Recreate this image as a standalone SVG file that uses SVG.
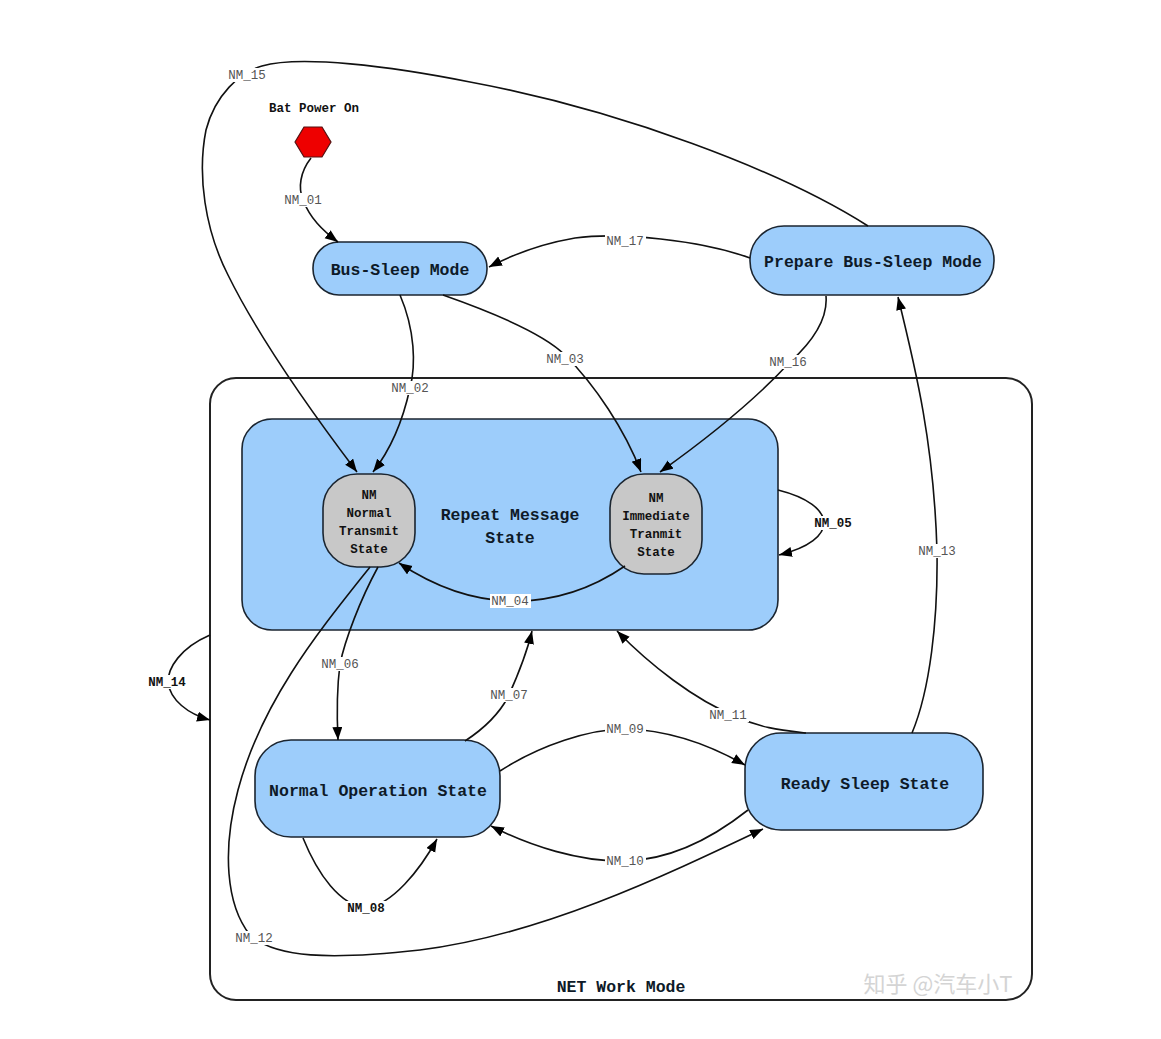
<svg xmlns="http://www.w3.org/2000/svg" width="1161" height="1039" viewBox="0 0 1161 1039">
<defs>
<marker id="arr" markerUnits="userSpaceOnUse" markerWidth="14" markerHeight="11" refX="13" refY="5" orient="auto">
<path d="M0,0 L13,5 L0,10 z" fill="#000"/>
</marker>
<style>
.box{fill:#9dcdfb;stroke:#1b2530;stroke-width:1.6}
.sub{fill:#c8c8c8;stroke:#1b2530;stroke-width:1.6}
.big{font-family:"Liberation Mono",monospace;font-weight:bold;font-size:16.5px;fill:#0e1a28;text-anchor:middle}
.sm{font-family:"Liberation Mono",monospace;font-weight:bold;font-size:12.5px;fill:#111;text-anchor:middle}
.e{fill:none;stroke:#111;stroke-width:1.6}
.ea{fill:none;stroke:#111;stroke-width:1.6;marker-end:url(#arr)}
.lb{font-family:"Liberation Mono",monospace;font-size:12.5px;fill:#555;text-anchor:middle}
.lbb{font-family:"Liberation Mono",monospace;font-size:12.5px;font-weight:bold;fill:#111;text-anchor:middle}
.bg{fill:#fff}
</style>
</defs>
<rect width="1161" height="1039" fill="#fff"/>

<g id="net-work-mode">
<rect x="210" y="378" width="822" height="622" rx="26" fill="#fff" stroke="#222" stroke-width="2"/>
<text class="big" x="621" y="992">NET Work Mode</text>
</g>

<g id="repeat-message-state">
<rect class="box" x="242" y="419" width="536" height="211" rx="30"/>
<text class="big" x="510" y="520">Repeat Message</text>
<text class="big" x="510" y="543">State</text>
</g>

<g id="nm-normal-transmit">
<rect class="sub" x="323" y="474" width="92" height="93" rx="34"/>
<text class="sm" x="369" y="499">NM</text>
<text class="sm" x="369" y="517">Normal</text>
<text class="sm" x="369" y="535">Transmit</text>
<text class="sm" x="369" y="553">State</text>
</g>

<g id="nm-immediate-transmit">
<rect class="sub" x="610" y="474" width="92" height="100" rx="34"/>
<text class="sm" x="656" y="502">NM</text>
<text class="sm" x="656" y="520">Immediate</text>
<text class="sm" x="656" y="538">Tranmit</text>
<text class="sm" x="656" y="556">State</text>
</g>

<g id="bat-power-on">
<text class="sm" x="314" y="112">Bat Power On</text>
<polygon points="295,142 304,127 322,127 331,142 322,157 304,157" fill="#ee0000" stroke="#551111" stroke-width="1.2"/>
</g>

<g id="bus-sleep-mode">
<rect class="box" x="313" y="242" width="174" height="53" rx="26"/>
<text class="big" x="400" y="275">Bus-Sleep Mode</text>
</g>

<g id="prepare-bus-sleep-mode">
<rect class="box" x="750" y="226" width="244" height="69" rx="34"/>
<text class="big" x="873" y="267">Prepare Bus-Sleep Mode</text>
</g>

<g id="normal-operation-state">
<rect class="box" x="255" y="740" width="245" height="97" rx="36"/>
<text class="big" x="378" y="796">Normal Operation State</text>
</g>

<g id="ready-sleep-state">
<rect class="box" x="745" y="733" width="238" height="97" rx="36"/>
<text class="big" x="865" y="789">Ready Sleep State</text>
</g>

<g id="connectors">
<path class="ea" d="M311,158 C300,172 298,188 303,200 C310,218 322,230 338,242"/>
<path class="ea" d="M868,226 C780,170 620,110 470,82 C390,66 300,55 262,66 C240,72 215,95 206,130 C197,175 205,230 228,275 C260,340 310,410 357,472"/>
<path class="ea" d="M750,258 C700,240 620,232 575,238 C540,244 510,256 489,267"/>
<path class="ea" d="M400,295 C415,330 416,365 410,388 C403,420 392,448 373,472"/>
<path class="ea" d="M443,295 C500,315 545,335 565,355 C595,385 625,430 641,472"/>
<path class="ea" d="M826,296 C828,320 812,342 790,362 C755,400 705,440 660,472"/>
<path class="ea" d="M625,566 C590,590 550,602 510,601 C470,600 432,585 399,563"/>
<path class="ea" d="M778,490 C838,505 840,540 779,555"/>
<path class="ea" d="M378,567 C360,600 345,640 340,664 C336,695 337,720 338,740"/>
<path class="ea" d="M465,741 C485,728 500,712 508,697 C518,675 527,652 532,631"/>
<path class="ea" d="M303,838 C318,875 340,905 366,908 C392,905 420,870 437,839"/>
<path class="ea" d="M500,771 C540,745 590,729 625,729 C670,730 710,745 745,765"/>
<path class="ea" d="M748,810 C710,840 670,860 625,861 C580,862 530,846 491,826"/>
<path class="ea" d="M806,733 C780,730 760,728 735,716 C695,700 650,665 617,631"/>
<path class="ea" d="M370,567 C320,630 262,700 238,790 C222,850 226,905 250,935 C275,958 330,960 420,950 C540,935 660,878 763,829"/>
<path class="ea" d="M912,733 C930,690 938,620 937,551 C934,445 916,370 898,297"/>
<path class="ea" d="M210,635 C180,648 168,668 168,682 C170,700 188,714 210,720"/>

<rect class="bg" x="283" y="193" width="41" height="14"/><text class="lb" x="303" y="204">NM_01</text>
<rect class="bg" x="227" y="68" width="41" height="14"/><text class="lb" x="247" y="79">NM_15</text>
<rect class="bg" x="605" y="234" width="41" height="14"/><text class="lb" x="625" y="245">NM_17</text>
<rect class="bg" x="390" y="381" width="41" height="14"/><text class="lb" x="410" y="392">NM_02</text>
<rect class="bg" x="545" y="352" width="41" height="14"/><text class="lb" x="565" y="363">NM_03</text>
<rect class="bg" x="768" y="355" width="41" height="14"/><text class="lb" x="788" y="366">NM_16</text>
<rect class="bg" x="490" y="594" width="41" height="14"/><text class="lb" x="510" y="605" fill="#333">NM_04</text>
<rect class="bg" x="812" y="516" width="42" height="14"/><text class="lbb" x="833" y="527">NM_05</text>
<rect class="bg" x="320" y="657" width="41" height="14"/><text class="lb" x="340" y="668">NM_06</text>
<rect class="bg" x="489" y="688" width="41" height="14"/><text class="lb" x="509" y="699">NM_07</text>
<rect class="bg" x="345" y="901" width="42" height="14"/><text class="lbb" x="366" y="912">NM_08</text>
<rect class="bg" x="605" y="722" width="41" height="14"/><text class="lb" x="625" y="733">NM_09</text>
<rect class="bg" x="605" y="854" width="41" height="14"/><text class="lb" x="625" y="865">NM_10</text>
<rect class="bg" x="708" y="708" width="41" height="14"/><text class="lb" x="728" y="719">NM_11</text>
<rect class="bg" x="234" y="931" width="41" height="14"/><text class="lb" x="254" y="942">NM_12</text>
<rect class="bg" x="917" y="544" width="41" height="14"/><text class="lb" x="937" y="555">NM_13</text>
<rect class="bg" x="146" y="675" width="42" height="14"/><text class="lbb" x="167" y="686">NM_14</text>
</g>

<text x="938" y="992" font-family="Noto Sans CJK SC, sans-serif" font-size="22" fill="#d4d4d4" text-anchor="middle">知乎 @汽车小T</text>
</svg>
